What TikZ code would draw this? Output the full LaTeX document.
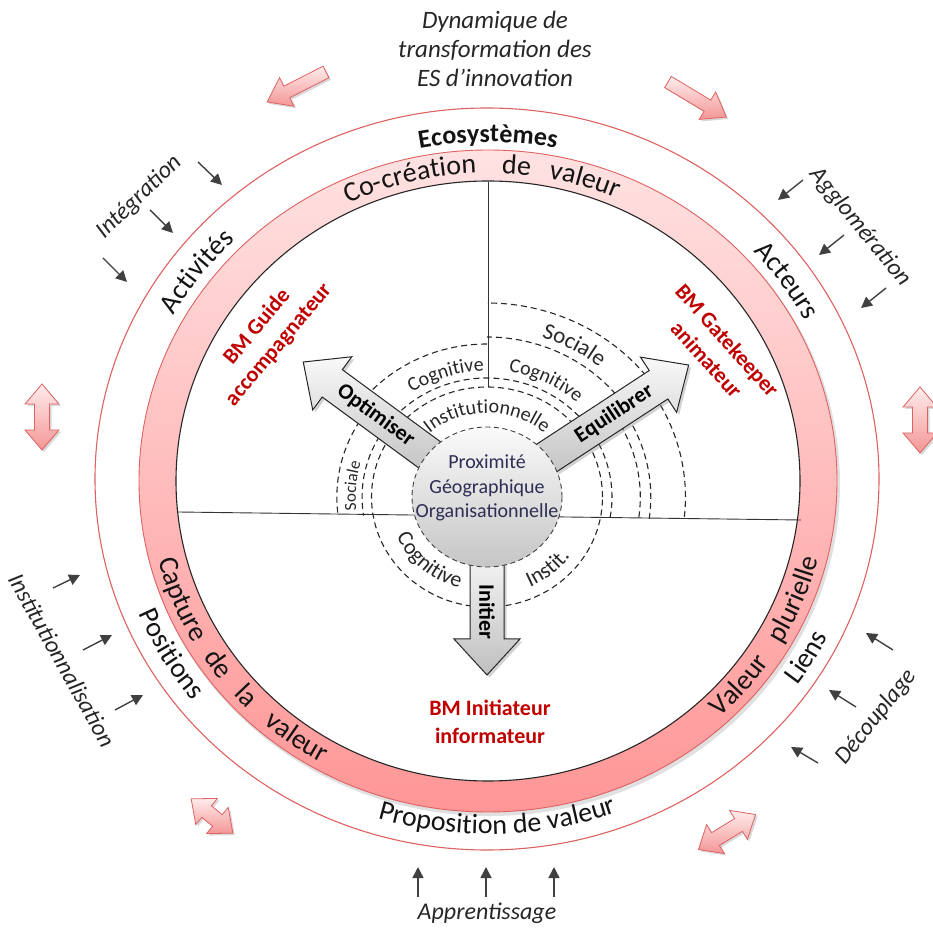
\documentclass[tikz,border=0pt]{standalone}
\usepackage{fontspec}
\setmainfont{Carlito}
\usetikzlibrary{decorations.text,shadows,arrows.meta,calc}

\definecolor{pinkline}{RGB}{222,98,98}
\definecolor{ringtop}{RGB}{255,226,226}
\definecolor{ringbot}{RGB}{255,150,150}
\definecolor{pinklight}{RGB}{255,236,236}
\definecolor{pinkdark}{RGB}{244,150,150}
\definecolor{bmred}{RGB}{192,0,0}
\definecolor{darkarr}{RGB}{64,64,64}
\definecolor{proxtxt}{RGB}{45,45,85}
\definecolor{ringtxt}{RGB}{20,20,20}
\definecolor{proxlab}{RGB}{40,40,40}

% curved text: #1 centre, #2 rx, #3 ry, #4 start, #5 end, #6 format, #7 colour, #8 text
\newcommand\arctext[8]{\path[decorate,decoration={text along path,text align=center,text color=#7,text={|#6|#8}}] ([shift={(#1)}]#4:#2 and #3) arc[start angle=#4,end angle=#5,x radius=#2,y radius=#3];}
% dashed proximity arc: radius, start, end
\newcommand\parc[3]{\draw[proxarc] ([shift={(C)}]#2:{1.05*#1} and #1) arc[start angle=#2,end angle=#3,x radius={1.05*#1},y radius=#1];}
% grey block arrow from centre C: angle, length
\newcommand\grayarrow[2]{\begin{scope}[shift={(C)},rotate=#1]
 \path[grayarr] (50,-17) -- ({#2-36},-17) -- ({#2-36},-33) -- (#2,0) -- ({#2-36},33) -- ({#2-36},17) -- (50,17) -- cycle;
 \end{scope}}
% pink single arrow: tail centre, angle, length
\newcommand\pinksingle[3]{\begin{scope}[shift={(#1)},rotate=#2]
 \path[pinkarr] (0,-6.5) -- ({#3-22},-6.5) -- ({#3-22},-16) -- (#3,0) -- ({#3-22},16) -- ({#3-22},6.5) -- (0,6.5) -- cycle;
 \end{scope}}
% pink double arrow: centre, angle, length
\newcommand\pinkdouble[3]{\begin{scope}[shift={(#1)},rotate=#2]
 \path[pinkarr] ({-#3/2},0) -- ({-#3/2+20},17) -- ({-#3/2+20},7.5) -- ({#3/2-20},7.5) -- ({#3/2-20},17) -- ({#3/2},0) -- ({#3/2-20},-17) -- ({#3/2-20},-7.5) -- ({-#3/2+20},-7.5) -- ({-#3/2+20},-17) -- cycle;
 \end{scope}}

\begin{document}
\begin{tikzpicture}[x=1pt,y=1pt,
  pinkarr/.style={draw=pinkline,line width=0.8pt,top color=pinklight,bottom color=pinkdark,
     drop shadow={shadow xshift=2pt,shadow yshift=-2pt,opacity=0.3}},
  grayarr/.style={draw=black!85,line width=1pt,top color=gray!5,bottom color=gray!50,
     drop shadow={shadow xshift=2.5pt,shadow yshift=-2.5pt,opacity=0.35}},
  smallarr/.style={draw=darkarr,line width=1.4pt,-{Triangle[length=11pt,width=11pt]}},
  proxarc/.style={draw=black!85,line width=1.1pt,dash pattern=on 6pt off 4pt},
  ital/.style={font=\fontsize{24}{29}\selectfont\itshape,text=black!85,inner sep=0pt},
  bm/.style={font=\fontsize{22}{28}\selectfont\bfseries,text=bmred,align=center,inner sep=0pt},
  arrlab/.style={font=\fontsize{22}{22}\selectfont\bfseries,inner sep=0pt},
]
\useasboundingbox (0,0) rectangle (933,929);
\coordinate (O) at (488,448);
\coordinate (C) at (487,432);
\coordinate (Oo) at (487,450);

% outer ecosystem circle
\draw[pinkline,line width=1.1pt,fill=white] (Oo) ellipse [x radius=392,y radius=371];
% soft shadow of the ring
\fill[black,opacity=0.12] (490,445) ellipse [x radius=350,y radius=332];
% pink ring
\shade[top color=ringtop,bottom color=ringbot,even odd rule] (O) ellipse [x radius=349,y radius=331] (O) ellipse [x radius=312,y radius=300];
\draw[pinkline,line width=0.9pt] (O) ellipse [x radius=349,y radius=331];
\draw[black!85,line width=1.1pt,fill=white] (O) ellipse [x radius=312,y radius=300];

% separating lines
\coordinate (hl) at (178,417);
\coordinate (hr) at (801,409);
\coordinate (vt) at (488,747);
\coordinate (vb) at (488,542);
\draw[black!80,line width=0.9pt] (hl) -- (hr);
\draw[black!80,line width=0.9pt] (vt) -- (vb);

% dashed proximity arcs
\parc{110}{0}{360}
\parc{119}{-10}{189}
\parc{153}{90}{144}
\parc{143}{144}{187}
\parc{160}{33}{90}
\parc{194}{33}{90}
\parc{146}{-8}{33}
\parc{156}{-8}{33}
\parc{189}{-6}{33}

% grey block arrows
\grayarrow{143.7}{228}
\grayarrow{33.2}{241}
\grayarrow{270}{178}
\node[arrlab,rotate=-36.3] (optlab) at ($(C)+(143.7:138)$) {Optimiser};
\node[arrlab,rotate=33.2] (eqlab) at ($(C)+(33.2:152)$) {Equilibrer};
\node[arrlab,rotate=-90] (initlab) at ($(C)+(270:115)$) {Initier};

% central circle
\draw[top color=gray!4,bottom color=gray!45,draw=black!75,line width=0.9pt,dash pattern=on 5pt off 3.5pt] (C) ellipse [x radius=75,y radius=70];
\node[align=center,font=\fontsize{20}{24.5}\selectfont,text=proxtxt,inner sep=0pt] (prox) at (487,441) {Proximité\\Géographique\\Organisationnelle};

% proximity labels
\arctext{C}{{1.05*84}}{84}{180}{0}{\fontsize{20}{20}\selectfont}{proxlab}{Institutionnelle}
\arctext{C}{{1.05*126}}{126}{140}{76}{\fontsize{20}{20}\selectfont}{proxlab}{Cognitive}
\arctext{C}{{1.05*127}}{127}{96}{32}{\fontsize{20}{20}\selectfont}{proxlab}{Cognitive}
\arctext{C}{{1.05*168}}{168}{90}{32}{\fontsize{23}{23}\selectfont}{proxlab}{Sociale}
\arctext{C}{{1.05*125}}{125}{205}{145}{\fontsize{17}{17}\selectfont}{proxlab}{Sociale}
\arctext{C}{{1.05*95}}{95}{190}{268}{\fontsize{22}{22}\selectfont}{proxlab}{Cognitive}
\arctext{C}{{1.05*99}}{99}{280}{338}{\fontsize{22}{22}\selectfont}{proxlab}{Instit.}

% ring texts
\arctext{O}{321}{308}{129}{79}{\fontsize{28}{28}\selectfont}{ringtxt}{Co-création}
\arctext{O}{321}{308}{105}{65}{\fontsize{28}{28}\selectfont}{ringtxt}{de}
\arctext{O}{321}{308}{97.7}{47.7}{\fontsize{28}{28}\selectfont}{ringtxt}{valeur}
\arctext{O}{340}{323}{177}{227}{\fontsize{28}{28}\selectfont}{ringtxt}{Capture}
\arctext{O}{340}{323}{195.5}{235.5}{\fontsize{28}{28}\selectfont}{ringtxt}{de}
\arctext{O}{340}{323}{203}{243}{\fontsize{28}{28}\selectfont}{ringtxt}{la}
\arctext{O}{340}{323}{209.5}{259.5}{\fontsize{28}{28}\selectfont}{ringtxt}{valeur}
\arctext{O}{340}{323}{294.6}{344.6}{\fontsize{28}{28}\selectfont}{ringtxt}{Valeur}
\arctext{O}{340}{323}{313}{363}{\fontsize{28}{28}\selectfont}{ringtxt}{plurielle}

% band texts
\arctext{O}{360}{339}{115}{65}{\fontsize{26}{26}\selectfont\bfseries}{ringtxt}{Ecosystèmes}
\arctext{O}{360}{339}{170}{116}{\fontsize{28}{28}\selectfont}{ringtxt}{Activités}
\arctext{O}{360}{339}{62}{8}{\fontsize{28}{28}\selectfont}{ringtxt}{Acteurs}
\arctext{O}{377}{353}{185}{235}{\fontsize{28}{28}\selectfont}{ringtxt}{Positions}
\arctext{O}{379}{353}{306}{353}{\fontsize{28}{28}\selectfont}{ringtxt}{Liens}
\arctext{O}{377}{353}{243}{300}{\fontsize{28}{28}\selectfont}{ringtxt}{Proposition de valeur}

% BM labels
\node[bm,rotate=50] (bmguide) at (268,593) {BM Guide\\accompagnateur};
\node[bm,rotate=-48] (bmgate) at (717,579) {BM Gatekeeper\\animateur};
\node[bm] (bminit) at (490,207) {BM Initiateur\\informateur};

% pink dynamics arrows
\pinksingle{326,857}{207}{66}
\pinksingle{668,847}{-31}{68}
\pinkdouble{42,512}{90}{66}
\pinkdouble{920,509}{90}{66}
\pinkdouble{212,113}{-39.5}{54}
\pinkdouble{727,97}{31.5}{67}

% small arrows
\draw[smallarr] (198,767) -- (222,744);
\draw[smallarr] (150,719) -- (173,696);
\draw[smallarr] (103,671) -- (127,647);
\draw[smallarr] (803,749) -- (778,729);
\draw[smallarr] (844,694) -- (819,674);
\draw[smallarr] (886,641) -- (861,621);
\draw[smallarr] (53,341) -- (80,354);
\draw[smallarr] (83,279) -- (112,294);
\draw[smallarr] (115,219) -- (143,234);
\draw[smallarr] (893,279) -- (866,296);
\draw[smallarr] (856,222) -- (829,239);
\draw[smallarr] (818,166) -- (791,182);
\draw[smallarr] (418,32) -- (418,62);
\draw[smallarr] (486,32) -- (486,62);
\draw[smallarr] (554,32) -- (554,62);

% italic labels
\node[ital,align=center,font=\fontsize{25}{29}\selectfont\itshape] (dyn) at (495,880) {Dynamique de\\transformation des\\ES d’innovation};
\node[ital,rotate=44] (integ) at (139,732) {Intégration};
\node[ital,rotate=-50.5] (agglo) at (860,702) {Agglomération};
\node[ital,rotate=-60.8] (instz) at (62,269) {Institutionnalisation};
\node[ital,rotate=51.5] (decoup) at (876,212) {Découplage};
\node[ital] (appr) at (487,16) {Apprentissage};
\end{tikzpicture}
\end{document}
